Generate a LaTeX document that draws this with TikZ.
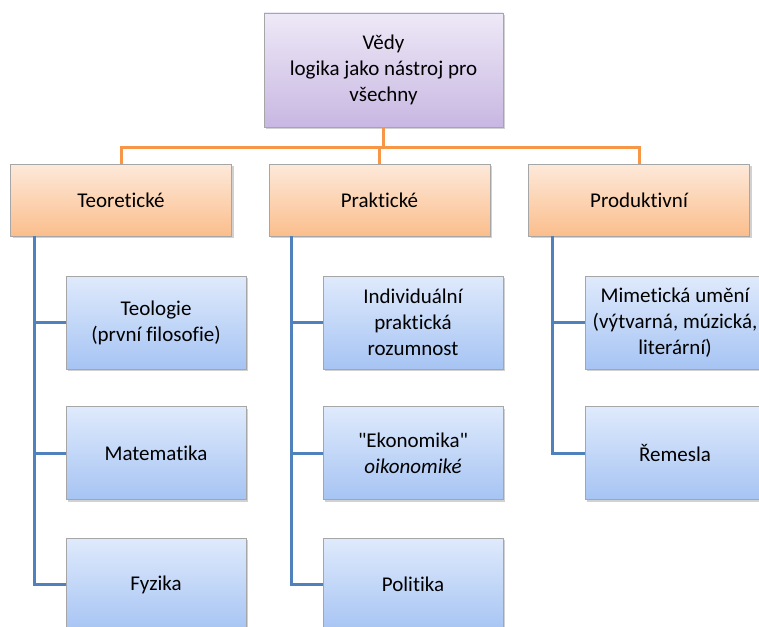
\documentclass[tikz,border=0pt]{standalone}
\usepackage{fontspec}
\setmainfont{Carlito}
\newfontfamily\boxfont{Carlito}[Ligatures=NoCommon]
\usetikzlibrary{shadows}
\definecolor{linkO}{HTML}{F79646}
\definecolor{linkB}{HTML}{4F81BD}
\definecolor{bord}{HTML}{A6A6A6}
\definecolor{purT}{HTML}{EEE9F7}
\definecolor{purB}{HTML}{C8B7E2}
\definecolor{orT}{HTML}{FDE9DA}
\definecolor{orB}{HTML}{FBBE8C}
\definecolor{blT}{HTML}{DFEAFC}
\definecolor{blB}{HTML}{A6C4F3}
\tikzset{
  base/.style={draw=bord, line width=0.8pt, align=center, inner sep=0pt,
    font=\boxfont\fontsize{21}{26}\selectfont,
    drop shadow={shadow xshift=2pt, shadow yshift=-2pt, opacity=0.3, fill=black!60}},
  rootbox/.style={base, top color=purT, bottom color=purB, minimum width=239pt, minimum height=114pt},
  catbox/.style={base, top color=orT, bottom color=orB, minimum width=221pt, minimum height=72pt},
  leafbox/.style={base, top color=blT, bottom color=blB, minimum width=180pt, minimum height=93pt},
  olink/.style={draw=linkO, line width=3pt},
  blink/.style={draw=linkB, line width=3pt},
}
\begin{document}
\begin{tikzpicture}[x=1pt,y=-1pt]
\useasboundingbox (0,0) rectangle (759,626);
\clip (0,0) rectangle (759,626);
% root
\node[rootbox] (root) at (383.5,70) {Vědy\\logika jako nástroj pro\\všechny};
% categories
\node[catbox] (teo) at (121,200) {Teoretické};
\node[catbox] (pra) at (379.5,200) {Praktické};
\node[catbox] (pro) at (639,200) {Produktivní};
% connectors root->categories
\coordinate (bus) at (383.5,147);
\draw[olink] (root.south) -- (bus);
\draw[olink] (teo.north) |- (bus);
\draw[olink] (pro.north) |- (bus);
\draw[olink] (pra.north) -- (pra.north |- bus);
% spines
\coordinate (tS) at (34,236);
\coordinate (pS) at (291,236);
\coordinate (rS) at (552,236);
% leaves
\node[leafbox] (teol) at (156,322.5) {Teologie\\(první filosofie)};
\node[leafbox] (mat) at (156,453) {Matematika};
\node[leafbox] (fyz) at (156,584.5) {Fyzika};
\node[leafbox] (ind) at (413,322.5) {Individuální\\praktická\\rozumnost};
\node[leafbox] (eko) at (413,453) {"Ekonomika"\\\textit{oikonomiké}};
\node[leafbox] (pol) at (413,584.5) {Politika};
\node[leafbox] (mim) at (675,322.5) {Mimetická umění\\(výtvarná, múzická,\\literární)};
\node[leafbox] (rem) at (675,453) {Řemesla};
% blue connectors
\draw[blink] (tS) |- (teol.west);
\draw[blink] (tS) |- (mat.west);
\draw[blink] (tS) |- (fyz.west);
\draw[blink] (pS) |- (ind.west);
\draw[blink] (pS) |- (eko.west);
\draw[blink] (pS) |- (pol.west);
\draw[blink] (rS) |- (mim.west);
\draw[blink] (rS) |- (rem.west);
\end{tikzpicture}
\end{document}
